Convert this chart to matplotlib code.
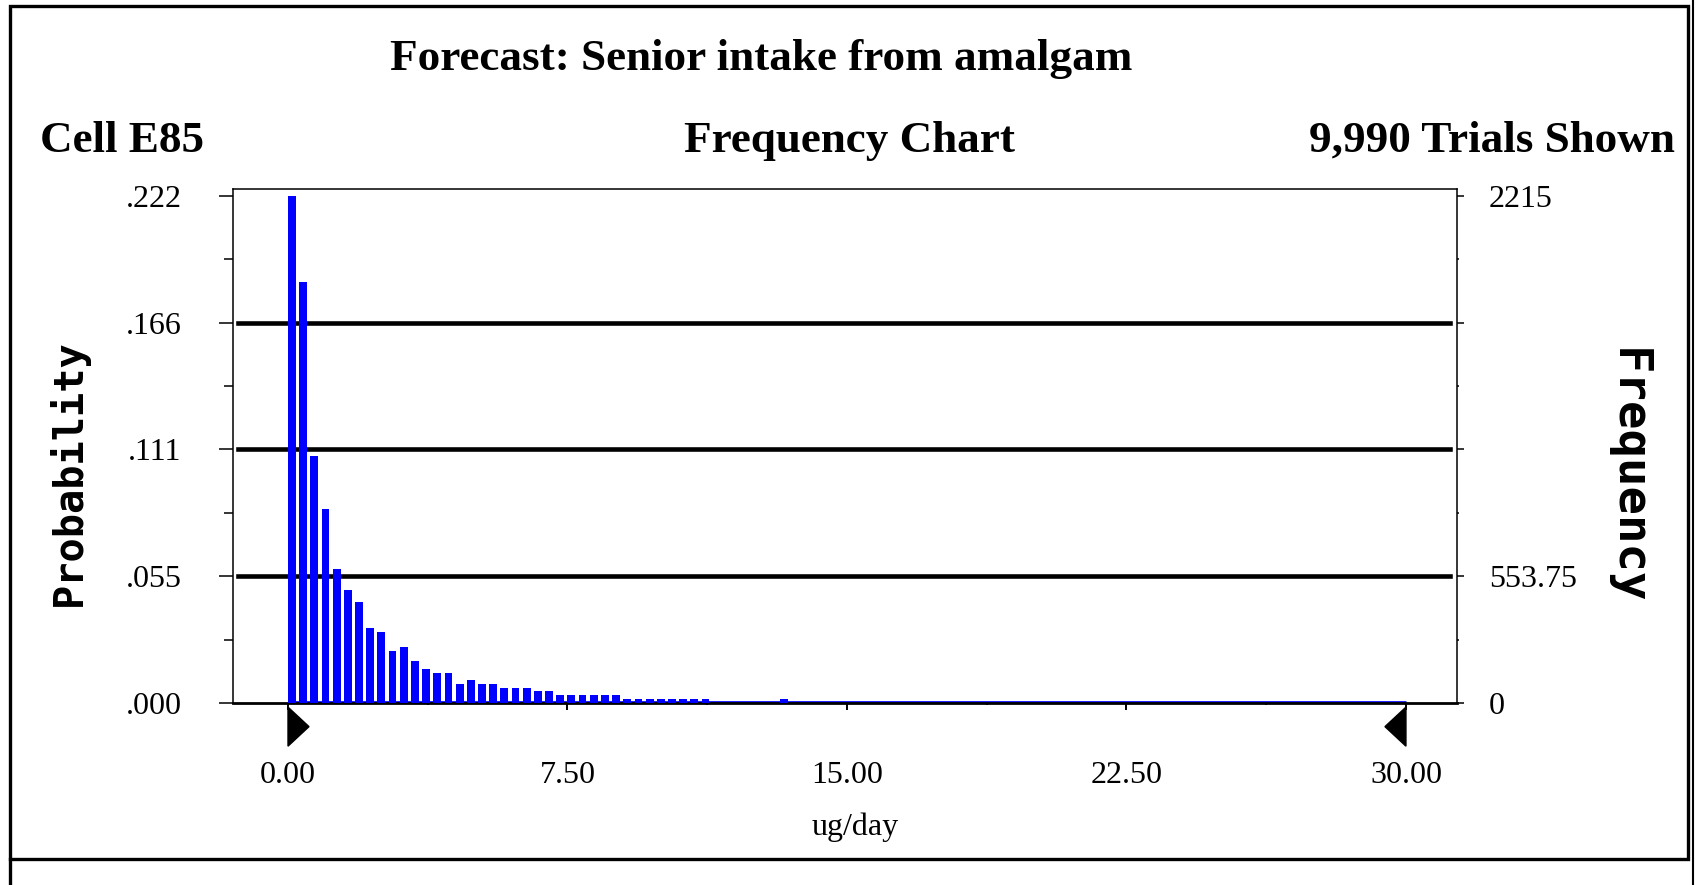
import numpy as np
import matplotlib.pyplot as plt
from matplotlib.patches import Polygon, Rectangle
from matplotlib.lines import Line2D
from matplotlib.transforms import blended_transform_factory

plt.rcParams["font.family"] = ["Liberation Serif", "DejaVu Serif"]

# frequency per 0.3 ug/day bin, from 0 to 30 ug/day
counts = [2215, 1838, 1078, 848, 586, 492, 439, 327, 311, 228,
          246, 182, 148, 132, 132, 85, 100, 85, 85, 67,
          67, 67, 51, 51, 37, 37, 37, 37, 37, 37,
          19, 19, 19, 19, 19, 19, 19, 19, 0, 0,
          0, 0, 0, 0, 19] + [0] * 55
bin_width = 0.3
trials_shown = 9990
range_min, range_max = 0.0, 30.0

x_ticks = [0.0, 7.5, 15.0, 22.5, 30.0]
x_tick_labels = ["0.00", "7.50", "15.00", "22.50", "30.00"]

title = "Forecast: Senior intake from amalgam"
cell_name = "Cell E85"
chart_name = "Frequency Chart"
trials_text = "9,990 Trials Shown"

W, H = 1699, 885


def fx(px):
    return px / W


def fy(py):
    return 1 - py / H


fig = plt.figure(figsize=(W / 100, H / 100), dpi=100)
ax = fig.add_axes([fx(233), fy(703), fx(1457) - fx(233), fy(189) - fy(703)])

top = max(counts)
ax.set_xlim(-1.476, 31.37)
ax.set_ylim(0, top * 1.0135)

bin_left = np.arange(len(counts)) * bin_width
ax.bar(bin_left, counts, width=0.21, align="edge", color="#0000ff", zorder=3)
ax.hlines(0, range_min, range_max, color="#0000ff", lw=3.4, zorder=2)

# quarter gridlines, probability on the left, frequency on the right
quarters = [top * k / 4 for k in range(5)]
eighths = [top * (2 * k + 1) / 8 for k in range(4)]
for q in quarters[1:4]:
    ax.axhline(q, xmin=0.004, xmax=0.994, color="black", lw=3.3, zorder=1)

prob_labels = [("%.3f" % (q / trials_shown)).lstrip("0") for q in quarters]
ax.set_yticks(quarters, prob_labels)
ax.set_yticks(eighths, minor=True)
ax.tick_params(axis="y", which="major", direction="out", length=10, width=1.1,
               pad=27, labelsize=23)
ax.tick_params(axis="y", which="minor", direction="out", length=6.5, width=1.1)

ax.set_xticks(x_ticks, x_tick_labels)
ax.set_xticks([(a + b) / 2 for a, b in zip(x_ticks[:-1], x_ticks[1:])], minor=True)
ax.tick_params(axis="x", which="major", direction="out", length=5, width=1.4,
               pad=37, labelsize=23)
ax.tick_params(axis="x", which="minor", direction="out", length=1.5, width=1.6)

for side in ["left", "top", "right"]:
    ax.spines[side].set_linewidth(1.1)
ax.spines["bottom"].set_linewidth(2.0)

ax2 = ax.twinx()
ax2.set_ylim(ax.get_ylim())
freq_labels = ["%g" % q if i in (0, 1, 4) else "" for i, q in enumerate(quarters)]
ax2.set_yticks(quarters, freq_labels)
ax2.set_yticks(eighths, minor=True)
ax2.tick_params(axis="y", which="major", direction="out", length=5, width=1.1,
                pad=18, labelsize=23)
ax2.tick_params(axis="y", which="minor", direction="out", length=1.5, width=1.1)
for s in ax2.spines.values():
    s.set_visible(False)

# display range markers under the axis
trans = blended_transform_factory(ax.transData, ax.transAxes)
tri_w = 0.563
ax.add_patch(Polygon([(range_min, -0.008), (range_min, -0.084),
                      (range_min + tri_w, -0.046)],
                     closed=True, color="black", transform=trans, clip_on=False))
ax.add_patch(Polygon([(range_max, -0.008), (range_max, -0.084),
                      (range_max - tri_w, -0.046)],
                     closed=True, color="black", transform=trans, clip_on=False))

fig.text(fx(761), fy(70), title, ha="center", va="baseline",
         fontsize=32.5, fontweight="bold")
fig.text(fx(40), fy(152), cell_name, ha="left", va="baseline",
         fontsize=32.5, fontweight="bold")
fig.text(fx(850), fy(152), chart_name, ha="center", va="baseline",
         fontsize=32.5, fontweight="bold")
fig.text(fx(1675), fy(152), trials_text, ha="right", va="baseline",
         fontsize=32.5, fontweight="bold")
fig.text(fx(855), fy(835), "ug/day", ha="center", va="baseline", fontsize=23)

fig.text(fx(68), fy(473), "Probability", rotation=90, ha="center", va="center",
         fontsize=29, fontweight="bold", family="DejaVu Sans Mono")
fig.text(fx(1627), fy(476), "Frequency", rotation=270, ha="center", va="center",
         fontsize=34, fontweight="bold", family="DejaVu Sans Mono")

# window frame
fig.add_artist(Rectangle((fx(10), fy(859)), fx(1688) - fx(10), fy(6) - fy(859),
                         fill=False, lw=2.4, color="black", transform=fig.transFigure))
fig.add_artist(Line2D([fx(10), fx(10)], [fy(859), 0], lw=2.4, color="black"))
fig.add_artist(Line2D([fx(1693), fx(1693)], [0, 1], lw=1.5, color="black"))

fig.savefig("out.png", dpi=100)
